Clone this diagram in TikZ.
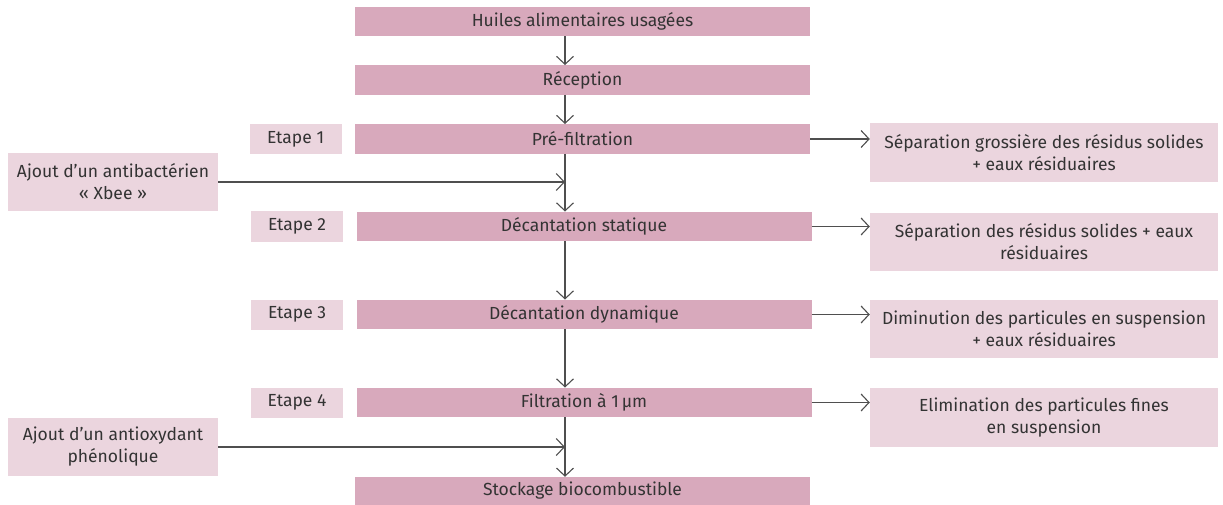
\documentclass[tikz,border=0pt]{standalone}
\usepackage{fontspec}
\setmainfont{Fira Sans}
\usetikzlibrary{positioning}
\usetikzlibrary{arrows.meta}
\definecolor{rose}{HTML}{D8A9BC}
\definecolor{roseclair}{HTML}{EBD5DE}
\definecolor{texte}{HTML}{333333}
\definecolor{trait}{HTML}{4F4F4F}

\begin{document}
\begin{tikzpicture}[x=1pt, y=-1pt,
    every node/.style={font=\fontsize{17.5}{22}\selectfont, text=texte, inner sep=0pt, align=center},
    mainbox/.style={fill=rose, minimum width=455pt, minimum height=29.5pt},
    etapebox/.style={fill=roseclair, minimum width=92pt, minimum height=30pt},
    sidebox/.style={fill=roseclair, minimum width=348pt, minimum height=58.5pt},
    ajoutbox/.style={fill=roseclair, minimum width=210pt, minimum height=58pt},
    flow/.style={draw=trait, line width=1.4pt, -{Straight Barb[length=8pt, width=17pt, line width=1.1pt]}}]
			\useasboundingbox (0,0) rectangle (1223,505);
			\coordinate (spine) at (565,0);

			% colonne principale
			\node[mainbox] (huiles) at (582.5,21.5) {Huiles alimentaires usagées};
			\node[mainbox] (reception) at (582.5,80) {Réception};
			\node[mainbox] (prefiltr) at (582.5,139) {Pré-filtration};
			\node[mainbox] (decstat) at (584,226.5) {Décantation statique};
			\node[mainbox] (decdyn) at (584,314.5) {Décantation dynamique};
			\node[mainbox] (filtr) at (584,402.5) {Filtration à 1\,µm};
			\node[mainbox, minimum height=28pt] (stock) at (582.5,491) {Stockage biocombustible};

			% etapes
			\node[etapebox, left=13pt of prefiltr] (e1) {Etape 1};
			\node[etapebox, left=13pt of decstat] (e2) {Etape 2};
			\node[etapebox, left=13pt of decdyn] (e3) {Etape 3};
			\node[etapebox, left=13pt of filtr] (e4) {Etape 4};

			% sorties
			\node[sidebox] (sep1) at (1044,152.5) {Séparation grossière des résidus solides\\+ eaux résiduaires};
			\node[sidebox] (sep2) at (1044,242) {Séparation des résidus solides + eaux\\résiduaires};
			\node[sidebox] (dimin) at (1044,329) {Diminution des particules en suspension\\+ eaux résiduaires};
			\node[sidebox] (elim) at (1044,417.5) {Elimination des particules fines\\en suspension};

			% ajouts
			\node[ajoutbox] (antibac) at (113,182) {Ajout d'un antibactérien\\« Xbee »};
			\node[ajoutbox] (antiox) at (113,447) {Ajout d'un antioxydant\\phénolique};

			% fleches
			\draw[flow] (huiles.south -| spine) -- (reception.north -| spine);
			\draw[flow] (reception.south -| spine) -- (prefiltr.north -| spine);
			\draw[flow] (prefiltr.south -| spine) -- (decstat.north -| spine);
			\draw[flow] (decstat.south -| spine) -- (decdyn.north -| spine);
			\draw[flow] (decdyn.south -| spine) -- (filtr.north -| spine);
			\draw[flow] (filtr.south -| spine) -- (stock.north -| spine);
			\draw[flow] (antibac.east) -- (antibac.east -| spine);
			\draw[flow] (antiox.east) -- (antiox.east -| spine);
			\draw[flow] (prefiltr.east) -- (prefiltr.east -| sep1.west);
			\draw[flow] (decstat.east) -- (decstat.east -| sep2.west);
			\draw[flow] (decdyn.east) -- (decdyn.east -| dimin.west);
			\draw[flow] (filtr.east) -- (filtr.east -| elim.west);
		\end{tikzpicture}
\end{document}
